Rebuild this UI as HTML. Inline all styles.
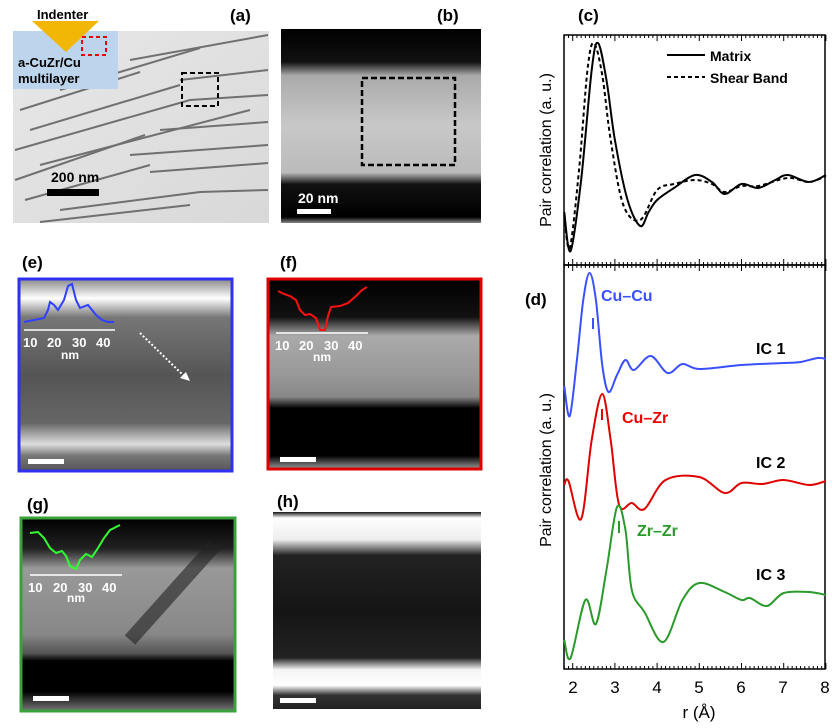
<!DOCTYPE html>
<html><head><meta charset="utf-8"><style>
body{margin:0;background:#fff;width:838px;height:728px;overflow:hidden}
svg{display:block;font-family:"Liberation Sans",sans-serif}
.b{font-weight:bold}
</style></head><body>
<svg id="s" width="838" height="728" viewBox="0 0 838 728" xmlns="http://www.w3.org/2000/svg">
<defs>
<linearGradient id="ga" x1="0" y1="0" x2="1" y2="1"><stop offset="0" stop-color="#e8e8e8"/><stop offset="1" stop-color="#d8d8d8"/></linearGradient>
<linearGradient id="gb" x1="0" y1="0" x2="0" y2="1">
<stop offset="0" stop-color="#000"/><stop offset="0.17" stop-color="#111"/><stop offset="0.24" stop-color="#aaa"/><stop offset="0.5" stop-color="#c8c8c8"/><stop offset="0.74" stop-color="#bbb"/><stop offset="0.8" stop-color="#111"/><stop offset="0.97" stop-color="#000"/><stop offset="1" stop-color="#888"/></linearGradient>
<linearGradient id="ge" x1="0" y1="0" x2="0" y2="1">
<stop offset="0" stop-color="#888"/><stop offset="0.1" stop-color="#fff"/><stop offset="0.2" stop-color="#777"/><stop offset="0.5" stop-color="#555"/><stop offset="0.75" stop-color="#666"/><stop offset="0.86" stop-color="#ddd"/><stop offset="0.92" stop-color="#777"/><stop offset="1" stop-color="#555"/></linearGradient>
<linearGradient id="gf" x1="0" y1="0" x2="0" y2="1">
<stop offset="0" stop-color="#000"/><stop offset="0.2" stop-color="#111"/><stop offset="0.3" stop-color="#aaa"/><stop offset="0.5" stop-color="#999"/><stop offset="0.62" stop-color="#888"/><stop offset="0.68" stop-color="#000"/><stop offset="0.93" stop-color="#000"/><stop offset="1" stop-color="#999"/></linearGradient>
<linearGradient id="gg" x1="0" y1="0" x2="0" y2="1">
<stop offset="0" stop-color="#000"/><stop offset="0.16" stop-color="#222"/><stop offset="0.26" stop-color="#999"/><stop offset="0.6" stop-color="#888"/><stop offset="0.7" stop-color="#555"/><stop offset="0.74" stop-color="#000"/><stop offset="0.9" stop-color="#000"/><stop offset="1" stop-color="#777"/></linearGradient>
<linearGradient id="gh" x1="0" y1="0" x2="0" y2="1">
<stop offset="0" stop-color="#111"/><stop offset="0.03" stop-color="#fff"/><stop offset="0.14" stop-color="#eee"/><stop offset="0.22" stop-color="#222"/><stop offset="0.5" stop-color="#151515"/><stop offset="0.74" stop-color="#222"/><stop offset="0.8" stop-color="#f4f4f4"/><stop offset="0.88" stop-color="#fff"/><stop offset="0.93" stop-color="#333"/><stop offset="1" stop-color="#222"/></linearGradient>
</defs>

<!-- (a) -->
<rect x="13" y="31" width="256" height="192" fill="url(#ga)"/>
<g stroke="#555" stroke-width="2" fill="none" opacity="0.8">
<path d="M130 60 L268 35"/><path d="M20 110 L140 72"/><path d="M60 90 L200 48"/>
<path d="M30 130 L180 85"/><path d="M180 80 L268 70"/><path d="M15 150 L190 100"/>
<path d="M190 100 L268 95"/><path d="M40 165 L250 110"/><path d="M160 130 L268 122"/>
<path d="M15 180 L145 135"/><path d="M130 155 L268 145"/><path d="M25 200 L150 165"/>
<path d="M150 172 L268 163"/><path d="M60 210 L200 192"/><path d="M200 192 L268 190"/>
<path d="M40 222 L190 205"/>
</g>
<rect x="13" y="31" width="105" height="58" fill="#bcd5ec"/>
<polygon points="32,21 99,21 66,52" fill="#f2b705"/>
<text x="37" y="19" font-size="13" class="b">Indenter</text>
<rect x="82" y="37" width="24" height="18" fill="none" stroke="#e00" stroke-width="2" stroke-dasharray="4,3"/>
<text x="18" y="67" font-size="13" class="b">a-CuZr/Cu</text>
<text x="18" y="83" font-size="13" class="b">multilayer</text>
<rect x="182" y="73" width="36" height="33" fill="none" stroke="#000" stroke-width="2" stroke-dasharray="5,3"/>
<text x="51" y="182" font-size="14" class="b">200 nm</text>
<rect x="47" y="189" width="52" height="7" fill="#000"/>
<text x="230" y="21" font-size="17" class="b">(a)</text>

<!-- (b) -->
<rect x="281" y="29" width="200" height="194" fill="url(#gb)"/>
<rect x="362" y="78" width="93" height="87" fill="none" stroke="#000" stroke-width="2.5" stroke-dasharray="6,3"/>
<text x="298" y="203" font-size="14" class="b" fill="#fff">20 nm</text>
<rect x="297" y="209" width="34" height="5" fill="#fff"/>
<text x="437" y="21" font-size="17" class="b">(b)</text>

<!-- (e) -->
<text x="22" y="268" font-size="17" class="b">(e)</text>
<rect x="19" y="279" width="213" height="192" fill="url(#ge)" stroke="#3030f0" stroke-width="3"/>
<path d="M24 322 L34 320 L44 318 L48 310 L50 302 L54 305 L58 310 L64 300 L68 286 L72 284 L76 300 L80 308 L88 305 L96 315 L102 320 L108 322 L114 322" fill="none" stroke="#3040ff" stroke-width="2"/>
<line x1="24" y1="330" x2="115" y2="330" stroke="#fff" stroke-width="1.5"/>
<g fill="#fff" font-size="13" class="b"><text x="23" y="347">10</text><text x="47" y="347">20</text><text x="72" y="347">30</text><text x="96" y="347">40</text><text x="61" y="359" font-size="12">nm</text></g>
<line x1="140" y1="333" x2="186" y2="378" stroke="#fff" stroke-width="2" stroke-dasharray="2,2"/>
<polygon points="190,381 180,378 186,372" fill="#fff"/>
<rect x="28" y="459" width="36" height="5" fill="#fff"/>

<!-- (f) -->
<text x="280" y="268" font-size="17" class="b">(f)</text>
<rect x="268" y="279" width="213" height="190" fill="url(#gf)" stroke="#e00000" stroke-width="3"/>
<path d="M278 291 L284 294 L290 296 L296 300 L300 310 L305 315 L310 314 L316 318 L320 330 L325 330 L328 316 L331 307 L340 306 L348 303 L356 296 L362 290 L367 287" fill="none" stroke="#ff1010" stroke-width="2"/>
<line x1="276" y1="333" x2="368" y2="333" stroke="#fff" stroke-width="1.5"/>
<g fill="#fff" font-size="13" class="b"><text x="275" y="350">10</text><text x="299" y="350">20</text><text x="324" y="350">30</text><text x="348" y="350">40</text><text x="313" y="361" font-size="12">nm</text></g>
<rect x="280" y="457" width="36" height="5" fill="#fff"/>

<!-- (g) -->
<text x="27" y="510" font-size="17" class="b">(g)</text>
<rect x="21" y="518" width="214" height="193" fill="url(#gg)" stroke="#3aa03a" stroke-width="3"/>
<line x1="215" y1="545" x2="130" y2="640" stroke="#222" stroke-width="14" opacity="0.6"/>
<path d="M30 533 L38 532 L44 538 L50 548 L56 553 L62 551 L66 556 L70 566 L76 569 L80 560 L86 554 L92 557 L98 548 L104 538 L110 530 L116 527 L120 525" fill="none" stroke="#30ff30" stroke-width="2"/>
<line x1="30" y1="575" x2="122" y2="575" stroke="#fff" stroke-width="1.5"/>
<g fill="#fff" font-size="13" class="b"><text x="28" y="592">10</text><text x="53" y="592">20</text><text x="78" y="592">30</text><text x="102" y="592">40</text><text x="67" y="602" font-size="12">nm</text></g>
<rect x="33" y="696" width="36" height="5" fill="#fff"/>

<!-- (h) -->
<text x="277" y="507" font-size="17" class="b">(h)</text>
<rect x="273" y="512" width="208" height="197" fill="url(#gh)"/>
<rect x="280" y="698" width="36" height="5" fill="#fff"/>

<!-- charts -->
<text x="578" y="21" font-size="17" class="b">(c)</text>
<text x="525" y="305" font-size="17" class="b">(d)</text>
<rect x="564" y="35" width="261" height="230" fill="none" stroke="#000" stroke-width="1.5"/>
<rect x="564" y="265" width="261" height="404" fill="none" stroke="#000" stroke-width="1.5"/>
<g id="ticks" stroke="#000" stroke-width="1"></g>
<line x1="667" y1="55" x2="705" y2="55" stroke="#000" stroke-width="2"/>
<line x1="667" y1="77" x2="705" y2="77" stroke="#000" stroke-width="2" stroke-dasharray="4,3"/>
<text x="710" y="61" font-size="14" class="b">Matrix</text>
<text x="710" y="83" font-size="14" class="b">Shear Band</text>
<text transform="translate(551,150) rotate(-90)" text-anchor="middle" font-size="16">Pair correlation (a. u.)</text>
<text transform="translate(551,470) rotate(-90)" text-anchor="middle" font-size="16">Pair correlation (a. u.)</text>
<g font-size="17" text-anchor="middle">
<text x="573" y="693">2</text><text x="615" y="693">3</text><text x="657" y="693">4</text><text x="699" y="693">5</text><text x="741" y="693">6</text><text x="783" y="693">7</text><text x="825" y="693">8</text>
<text x="699" y="718">r (Å)</text></g>
<text x="601" y="301" font-size="16" class="b" fill="#3a50ff">Cu–Cu</text>
<text x="622" y="423" font-size="16" class="b" fill="#e00">Cu–Zr</text>
<text x="637" y="536" font-size="16" class="b" fill="#2a9a2a">Zr–Zr</text>
<text x="756" y="354" font-size="16" class="b">IC 1</text>
<text x="756" y="468" font-size="16" class="b">IC 2</text>
<text x="756" y="580" font-size="16" class="b">IC 3</text>
<line x1="593" y1="318" x2="593" y2="329" stroke="#3a50ff" stroke-width="2"/>
<line x1="602" y1="409" x2="602" y2="420" stroke="#e00" stroke-width="2"/>
<line x1="619" y1="521" x2="619" y2="533" stroke="#2a9a2a" stroke-width="2"/>
<g id="curves" fill="none" stroke-width="2"></g>
</svg>
<script>
var X=function(r){return 572.7+(r-2)*42.2;};
var t=document.getElementById("ticks"),h="";
for(var i=18;i<=80;i++){var r=i/10,x=X(r),L=(i%10==0)?6:3;
[35,265].forEach(function(y){h+='<line x1="'+x+'" y1="'+y+'" x2="'+x+'" y2="'+(y+L)+'"/>';});
[265,669].forEach(function(y){h+='<line x1="'+x+'" y1="'+y+'" x2="'+x+'" y2="'+(y-L)+'"/>';});}
t.innerHTML=h;
function path(pts){var p=pts.map(function(a){return [X(a[0]),a[1]];});
var d="M"+p[0][0]+" "+p[0][1];
for(var i=0;i<p.length-1;i++){var p0=p[i-1]||p[i],p1=p[i],p2=p[i+1],p3=p[i+2]||p2;
var c1=[p1[0]+(p2[0]-p0[0])/6,p1[1]+(p2[1]-p0[1])/6],c2=[p2[0]-(p3[0]-p1[0])/6,p2[1]-(p3[1]-p1[1])/6];
d+=" C"+c1+" "+c2+" "+p2;}return d;}
var C=[
["#000","",[[1.8,212],[1.95,251],[2.2,180],[2.45,70],[2.6,43],[2.8,80],[3.0,140],[3.3,200],[3.6,226],[3.8,212],[4.0,200],[4.4,188],[4.9,175],[5.3,182],[5.6,194],[6.0,184],[6.4,188],[6.8,180],[7.1,175],[7.6,182],[8,175]]],
["#000","4,3",[[1.8,215],[1.93,248],[2.15,170],[2.35,70],[2.5,43],[2.7,75],[2.9,140],[3.2,205],[3.6,220],[4.0,190],[4.4,184],[4.9,180],[5.3,184],[5.6,192],[6.0,186],[6.4,186],[7.1,178],[7.6,182],[8,176]]],
["#3a50ff","",[[1.8,386],[1.93,416],[2.1,360],[2.25,300],[2.4,273],[2.55,300],[2.7,365],[2.85,392],[3.05,375],[3.25,360],[3.45,370],[3.85,356],[4.25,373],[4.6,364],[5.0,369],[6.0,365],[7.0,363],[7.4,362],[7.8,358],[8,359]]],
["#e00000","",[[1.8,485],[1.9,481],[2.2,519],[2.45,440],[2.7,394],[2.9,440],[3.1,505],[3.4,503],[3.7,509],[4.2,480],[5.0,477],[5.6,493],[6.0,483],[6.5,484],[7.0,480],[7.6,485],[8,481]]],
["#2a9a2a","",[[1.8,640],[1.95,658],[2.3,600],[2.55,624],[2.8,570],[3.05,507],[3.25,530],[3.4,590],[3.7,612],[4.15,642],[4.6,600],[5.0,583],[5.6,592],[6.0,600],[6.2,598],[6.6,606],[7.0,593],[7.6,592],[8,595]]]];
var g=document.getElementById("curves"),s="";
C.forEach(function(c){s+='<path d="'+path(c[2])+'" stroke="'+c[0]+'"'+(c[1]?' stroke-dasharray="'+c[1]+'"':'')+'/>';});
g.innerHTML=s;
</script>
</body></html>
